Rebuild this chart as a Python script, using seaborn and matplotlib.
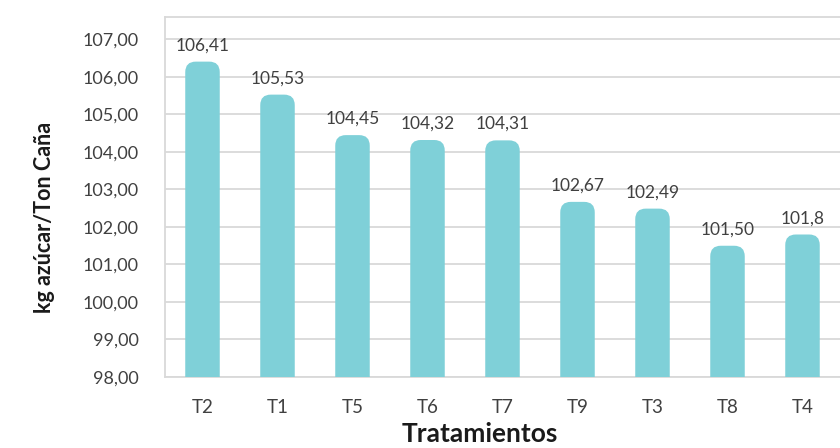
import matplotlib
matplotlib.use("Agg")
import matplotlib.pyplot as plt
from matplotlib.patches import FancyBboxPatch
import seaborn as sns
import pandas as pd

# Treatments and sugar yield (kg azúcar / Ton caña), as printed on the bars
tratamientos = ["T2", "T1", "T5", "T6", "T7", "T9", "T3", "T8", "T4"]
etiquetas = ["106,41", "105,53", "104,45", "104,32", "104,31", "102,67", "102,49", "101,50", "101,8"]
rendimiento = [float(s.replace(",", ".")) for s in etiquetas]
ticks_y = [98, 99, 100, 101, 102, 103, 104, 105, 106, 107]

BAR = "#7FD0D8"
GRID = "#D9D9D9"
TXT = "#404040"

sns.set_theme(style="white")
plt.rcParams["font.family"] = ["Lato", "DejaVu Sans"]

df = pd.DataFrame({"Tratamiento": tratamientos, "Valor": rendimiento})

fig = plt.figure(figsize=(8.4, 4.48), dpi=100)
ax = fig.add_axes([165 / 840, 1 - 377 / 448, 1 - 165 / 840, (377 - 17) / 448])

sns.barplot(data=df, x="Tratamiento", y="Valor", order=tratamientos,
            color=BAR, width=0.46, saturation=1, ax=ax, zorder=3)

ax.set_ylim(98, 107.6)
ax.set_xlim(-0.5, len(tratamientos) - 0.5)

# Replace the plain rectangles with bars that have rounded tops
bbox = ax.get_position()
px_x = bbox.width * 840 / (len(tratamientos))
px_y = bbox.height * 448 / (107.6 - 98)
rects = list(ax.patches)
for r in rects:
    x, y = r.get_x(), r.get_y()
    w, h = r.get_width(), r.get_height()
    r.remove()
    ax.add_patch(FancyBboxPatch((x, y), w, h,
                                boxstyle="round,pad=0,rounding_size=0.14",
                                mutation_aspect=px_x / px_y,
                                facecolor=BAR, edgecolor="none", zorder=3))

for i, (v, t) in enumerate(zip(rendimiento, etiquetas)):
    ax.annotate(t, (i, v), xytext=(0, 6), textcoords="offset points",
                ha="center", va="bottom", fontsize=12.5, color=TXT)

ax.set_yticks(ticks_y)
ax.set_yticklabels([f"{t:.2f}".replace(".", ",") for t in ticks_y],
                   fontsize=13, color=TXT)
ax.tick_params(axis="y", length=9, width=1.3, color=GRID, pad=10)
ax.tick_params(axis="x", length=0, pad=16, labelsize=13.5, labelcolor=TXT)

ax.grid(axis="y", color=GRID, linewidth=1.3, zorder=0)
ax.set_axisbelow(True)
for side in ["left", "bottom", "top"]:
    ax.spines[side].set_color(GRID)
    ax.spines[side].set_linewidth(1.3)
ax.spines["right"].set_visible(False)

ax.set_ylabel("kg azúcar/Ton Caña", fontsize=15.5, fontweight="bold",
              color="#1A1A1A", va="center")
ax.set_xlabel("Tratamientos", fontsize=19, fontweight="bold", color="#1A1A1A",
              va="center")
ax.xaxis.set_label_coords((480 - 165) / (840 - 165), -(434 - 377) / 360)
ax.yaxis.set_label_coords(-(165 - 45) / 675, (377 - 217) / 360)

fig.savefig("out.png", dpi=100)
